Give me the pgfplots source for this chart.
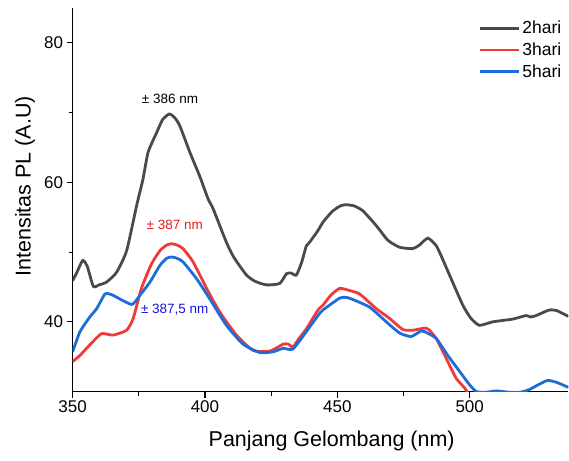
\documentclass[border=0pt]{standalone}
\usepackage{fontspec}
\setmainfont{Liberation Sans}
\usepackage{pgfplots}
\pgfplotsset{compat=1.18}

\definecolor{c2hari}{RGB}{74,74,74}
\definecolor{c3hari}{RGB}{238,58,58}
\definecolor{c5hari}{RGB}{30,108,218}

\begin{document}
\begin{tikzpicture}
  \begin{axis}[
      scale only axis,
      width=496.3pt, height=384pt,
      xmin=350, xmax=537.3,
      ymin=30, ymax=85,
      axis x line*=bottom,
      axis y line*=left,
      axis line style={line width=1.2pt},
      tick align=outside,
      xtick={350,400,450,500},
      ytick={40,60,80},
      minor x tick num=1,
      minor y tick num=1,
      major tick length=6pt,
      minor tick length=4pt,
      every tick/.style={black, line width=1.1pt},
      /pgf/number format/assume math mode=true,
      ticklabel style={font=\fontsize{17}{19}\selectfont},
      xlabel={Panjang Gelombang (nm)},
      ylabel={Intensitas PL (A.U)},
      label style={font=\fontsize{21.5}{25}\selectfont},
      xlabel style={at={(axis description cs:0.5225,-0.128)}, anchor=center},
      ylabel style={at={(axis description cs:-0.096,0.535)}, anchor=center},
      legend cell align=left,
      legend style={draw=none, fill=none,
        at={(axis description cs:0.995,0.975)}, anchor=north east,
        font=\fontsize{17.5}{20}\selectfont, row sep=4.5pt,
        nodes={inner sep=1.5pt}},
      legend image code/.code={\draw[#1] (0pt,0pt) -- (40pt,0pt);},
      every axis plot/.append style={line width=2.8pt, smooth, tension=0.35},
    ]

    \addplot[color=c2hari] coordinates {
      (350,45.9)(351.5,47.0)(353.8,48.8)(355.5,48.0)(357.8,45.1)(360,45.3)
      (362.8,45.7)(366.6,47.1)(370.4,50.2)(374.2,56.7)(376.6,60.5)(378.5,64.3)
      (381.7,67.1)(384,69.0)(386.5,69.8)(388.5,69.3)(390.5,68.1)(394.3,64.3)
      (398,60.9)(401.2,57.6)(403.1,56.2)(408.1,51.4)(411,49.2)(415.7,46.7)
      (419,45.8)(423.2,45.3)(428.2,45.5)(430.8,46.9)(432.5,47.0)(434.5,46.7)
      (436.5,48.5)(438.3,50.9)(439.5,51.4)(442.7,53.1)(444.6,54.3)(448,55.8)
      (451,56.6)(453.4,56.8)(456.5,56.6)(459.7,55.9)(464.7,53.8)(469.1,51.7)
      (473.5,50.7)(478.5,50.5)(481,51.0)(484.2,52.0)(487.4,50.9)(490,48.8)
      (492.4,46.7)(497.4,42.4)(500.5,40.5)(503.7,39.5)(508.7,40.0)(516.3,40.4)
      (521.3,40.9)(523,40.7)(525.1,40.9)(530.1,41.7)(533,41.6)(535.1,41.2)
      (537.3,40.8)
    };
    \addlegendentry{2hari}

    \addplot[color=c3hari] coordinates {
      (350,34.3)(352.8,35.2)(356.5,36.7)(360.9,38.3)(365.3,38.1)(370.4,38.8)
      (372.9,40.5)(376.0,44.8)(379.8,48.3)(383.0,50.2)(385.5,51.0)(387.4,51.2)
      (389.5,51.0)(391.7,50.5)(395.5,48.6)(400.6,44.8)(405.6,41.4)(411.9,38.1)
      (418.2,35.9)(424.5,35.8)(429.5,36.8)(431.5,36.8)(433.2,36.4)(435.5,37.6)
      (438.3,39.0)(442.7,41.7)(444.6,42.4)(447.5,43.8)(450.9,44.8)(454.5,44.5)
      (458.4,44.0)(464.7,41.9)(469.7,40.5)(474.8,38.9)(478.5,38.8)(482.9,39.1)
      (484.5,38.9)(487.4,37.6)(491.1,34.8)(494.9,31.9)(498.7,30.2)(501,27.5)
    };
    \addlegendentry{3hari}

    \addplot[color=c5hari] coordinates {
      (350,35.7)(352.8,38.6)(356.5,40.7)(359.1,41.9)(362.2,44.0)(363.8,44.0)
      (365.3,43.8)(372.3,42.5)(375.4,43.8)(379.2,45.7)(383.0,48.1)(385.5,49.1)
      (387.4,49.3)(389.5,49.1)(391.7,48.6)(396.8,46.2)(401.8,43.3)(408.1,39.5)
      (414.4,36.8)(420.7,35.6)(425.7,35.7)(429.5,36.2)(433.2,36.1)(438.3,38.6)
      (442.7,40.9)(444.6,41.7)(450.9,43.4)(453.5,43.5)(455.9,43.2)(462.2,42.1)
      (468.5,40.0)(473.5,38.4)(477.9,37.9)(481.7,38.7)(484,38.4)(487.4,37.6)
      (491.7,35.2)(496.2,32.9)(499.9,31.0)(502.5,30.0)(506,29.9)(510,30.1)
      (515,29.9)(519,29.9)(522.6,30.3)(526,31.0)(529.5,31.6)(533,31.3)
      (537.3,30.6)
    };
    \addlegendentry{5hari}

    \node[font=\fontsize{13.5}{16}\selectfont, text=black]
      at (axis cs:386.8,71.9) {± 386 nm};
    \node[font=\fontsize{13.5}{16}\selectfont, text={rgb,255:red,230;green,30;blue,30}]
      at (axis cs:388.6,53.9) {± 387 nm};
    \node[font=\fontsize{13.5}{16}\selectfont, text={rgb,255:red,20;green,20;blue,220}]
      at (axis cs:388.6,41.7) {± 387,5 nm};
  \end{axis}
  \path (current axis.south west) ++(-72.7pt,-69pt) rectangle ++(569pt,461pt);
\end{tikzpicture}
\end{document}
